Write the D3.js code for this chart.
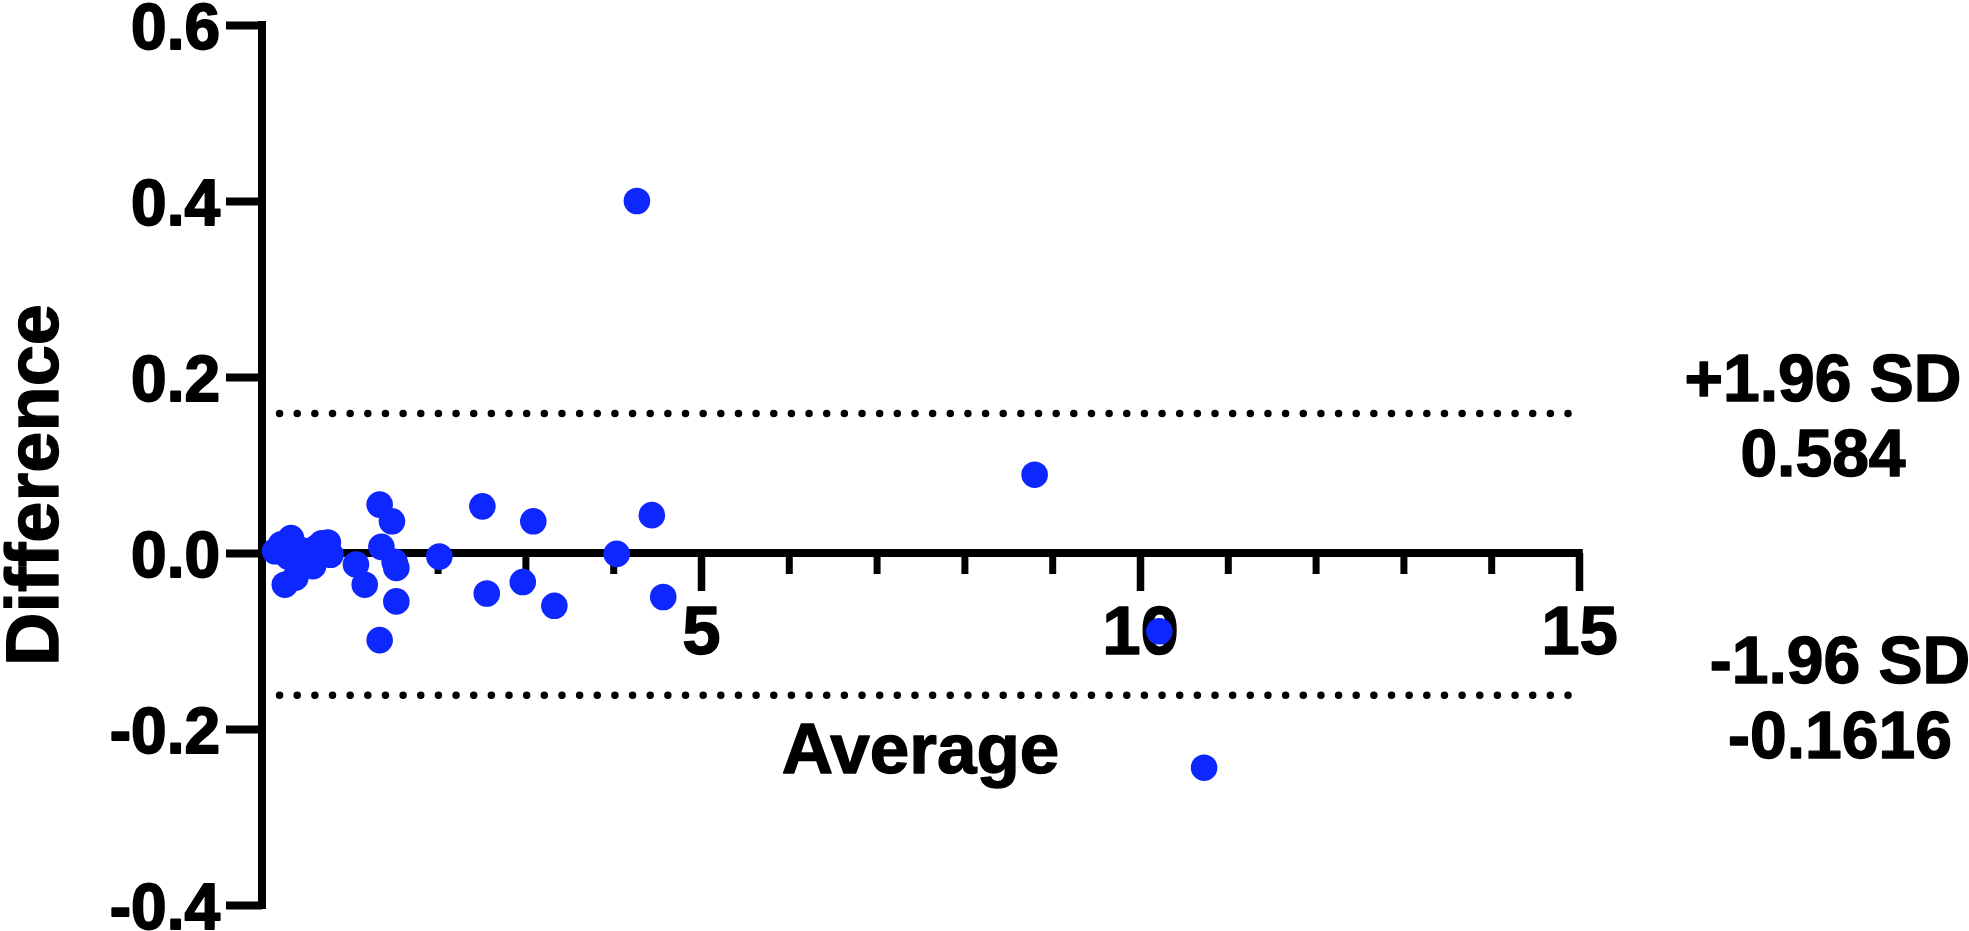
<!DOCTYPE html>
<html>
<head>
<meta charset="utf-8">
<script src="https://cdn.jsdelivr.net/npm/d3@7"></script>
<style>
  html, body { margin: 0; padding: 0; background: #fff; }
  svg { display: block; font-family: "Liberation Sans", Arial, Helvetica, sans-serif; font-weight: bold; }
  text { stroke: #000; stroke-width: 1.4px; stroke-linejoin: round; paint-order: stroke fill; }
</style>
</head>
<body>
<svg id="chart" width="1969" height="931"></svg>
<script>
// ---- data ----
const averages = [0.15, 0.22, 0.33, 0.26, 0.38, 0.30, 0.45, 0.52, 0.58, 0.62, 0.68, 0.75, 0.78, 0.42,
                  1.07, 1.17, 1.34, 1.36, 1.48, 1.51, 1.53, 1.53, 1.34,
                  2.02, 2.51, 2.56, 2.97, 3.09, 3.33, 4.04, 4.27, 4.44, 4.57,
                  8.80, 10.22, 10.73];
const differences = [0.002, 0.010, 0.017, -0.036, -0.028, -0.004, 0.003, -0.006, -0.015, 0.006, 0.011, 0.012, -0.002, -0.012,
                     -0.013, -0.036, 0.055, 0.007, 0.036, -0.010, -0.017, -0.055, -0.099,
                     -0.004, 0.053, -0.046, -0.033, 0.036, -0.060, -0.001, 0.400, 0.043, -0.050,
                     0.089, -0.089, -0.244];
const xMajorTicks = [5, 10, 15];
const xMinorTicks = [1, 2, 3, 4, 6, 7, 8, 9, 11, 12, 13, 14];
const yTicks = [-0.4, -0.2, 0.0, 0.2, 0.4, 0.6];
const upperLoA = 0.1584;
const lowerLoA = -0.1616;
const loaRange = [0.2, 14.9];
const upperLabels = ["+1.96 SD", "0.584"];
const lowerLabels = ["-1.96 SD", "-0.1616"];
const xTitle = "Average";
const yTitle = "Difference";

// ---- layout ----
const svg = d3.select("#chart");
const x = d3.scaleLinear().domain([0, 15]).range([262, 1579]);
const y = d3.scaleLinear().domain([-0.4, 0.6]).range([905, 25]);
const AX = 8; // axis stroke width

// limits of agreement (dotted)
[upperLoA, lowerLoA].forEach(v => {
  svg.append("line")
    .attr("x1", x(loaRange[0])).attr("x2", x(loaRange[1]))
    .attr("y1", y(v)).attr("y2", y(v))
    .attr("stroke", "#000").attr("stroke-width", 7.5)
    .attr("stroke-linecap", "round")
    .attr("stroke-dasharray", "0 17.65");
});

// y axis
const yAxis = d3.axisLeft(y).tickValues(yTicks).tickSize(36).tickSizeOuter(0).tickPadding(6)
  .tickFormat(d => d.toFixed(1));
const gy = svg.append("g").attr("transform", `translate(${x(0)},0)`).call(yAxis);
gy.select(".domain").remove();
gy.selectAll(".tick line").attr("stroke", "#000").attr("stroke-width", AX);
gy.selectAll(".tick text").attr("fill", "#000").attr("font-size", 64).attr("font-weight", "bold")
  .style("stroke-width", "1.8px")
  .attr("dy", "0.36em").attr("x", -42);
svg.append("line")
  .attr("x1", x(0)).attr("x2", x(0))
  .attr("y1", y(0.6) - AX / 2).attr("y2", y(-0.4) + AX / 2)
  .attr("stroke", "#000").attr("stroke-width", AX);

// x axis (minor ticks)
const gxMinor = svg.append("g").attr("transform", `translate(0,${y(0)})`)
  .call(d3.axisBottom(x).tickValues(xMinorTicks).tickSize(21).tickSizeOuter(0).tickFormat(""));
gxMinor.select(".domain").remove();
gxMinor.selectAll(".tick line").attr("stroke", "#000").attr("stroke-width", 7);

// x axis (major ticks)
const gxMajor = svg.append("g").attr("transform", `translate(0,${y(0)})`)
  .call(d3.axisBottom(x).tickValues(xMajorTicks).tickSize(38).tickSizeOuter(0).tickPadding(14)
    .tickFormat(d3.format("d")));
gxMajor.select(".domain").remove();
gxMajor.selectAll(".tick line").attr("stroke", "#000").attr("stroke-width", 7.5);
gxMajor.selectAll(".tick text").attr("fill", "#000").attr("font-size", 69).attr("font-weight", "bold");
svg.append("line")
  .attr("x1", x(0)).attr("x2", x(15) + 3.75)
  .attr("y1", y(0)).attr("y2", y(0))
  .attr("stroke", "#000").attr("stroke-width", AX);

// points
svg.append("g").selectAll("circle")
  .data(averages.map((a, i) => [a, differences[i]]))
  .join("circle")
  .attr("cx", d => x(d[0]))
  .attr("cy", d => y(d[1]))
  .attr("r", 13.3)
  .attr("fill", "#0F27FF");

// axis titles
svg.append("text")
  .attr("x", (x(0) + x(15)) / 2).attr("y", 773)
  .attr("text-anchor", "middle").attr("font-size", 71).attr("fill", "#000")
  .text(xTitle);
svg.append("text")
  .attr("transform", "translate(58,485) rotate(-90)")
  .attr("text-anchor", "middle").attr("font-size", 74).attr("fill", "#000")
  .text(yTitle);

// limit labels
const upG = svg.append("text").attr("text-anchor", "middle").attr("font-size", 66).attr("fill", "#000");
upperLabels.forEach((t, i) => upG.append("tspan").attr("x", 1823).attr("y", 401 + i * 75).text(t));
const loG = svg.append("text").attr("text-anchor", "middle").attr("font-size", 66).attr("fill", "#000");
lowerLabels.forEach((t, i) => loG.append("tspan").attr("x", 1840).attr("y", 683 + i * 75).text(t));
</script>
</body>
</html>
